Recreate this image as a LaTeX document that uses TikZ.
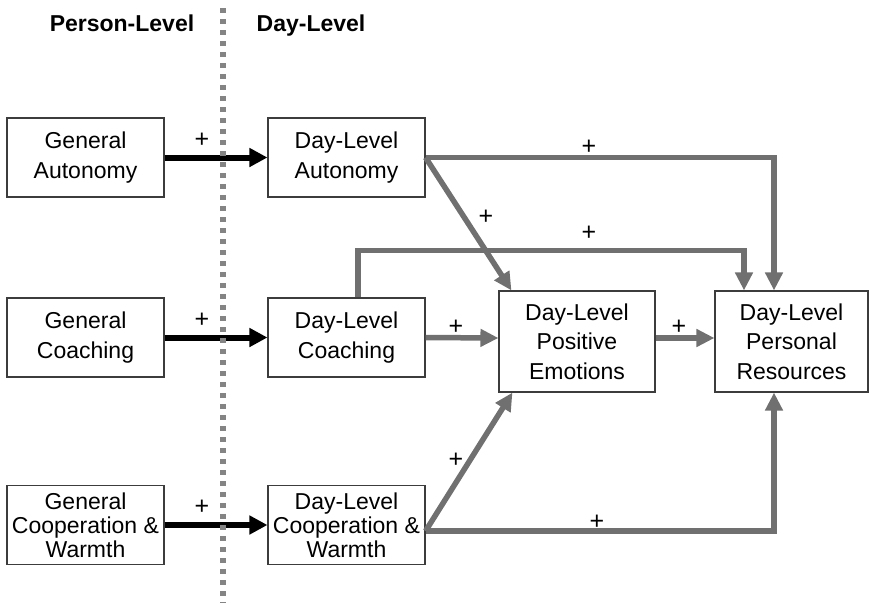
\documentclass[tikz,border=0pt]{standalone}
\usepackage{fontspec}
\setmainfont{Liberation Sans}
\usepackage{xcolor}
\usepackage{tikz}
\usetikzlibrary{arrows.meta,calc,positioning}
\definecolor{arrowgray}{RGB}{112,112,112}
\definecolor{dotgray}{RGB}{132,132,132}
\definecolor{boxgray}{RGB}{60,60,60}
\tikzset{
  varbox/.style={draw=boxgray,line width=1.1pt,minimum width=157pt,minimum height=79pt,
    inner sep=0pt,align=center,font=\fontsize{23}{29.5}\selectfont},
  tightbox/.style={varbox,font=\fontsize{23}{24}\selectfont},
  widebox/.style={varbox,minimum width=156pt,minimum height=101pt},
  blackpath/.style={-{Triangle[length=18pt,width=18pt]},line width=6pt,black},
  graypath/.style={-{Triangle[length=18pt,width=17pt]},line width=5.5pt,arrowgray},
  signlabel/.style={font=\fontsize{25}{25}\selectfont,inner sep=0pt},
  levelhead/.style={font=\bfseries\fontsize{23}{23}\selectfont,anchor=base}
}

\begin{document}
\begin{tikzpicture}[x=1pt,y=-1pt,>=Latex]
  \useasboundingbox (0,0) rectangle (869,603);
  % person level
  \node[varbox] (genAut) at (85.5,157.5) {General\\Autonomy};
  \node[varbox] (genCoa) at (85.5,337.5) {General\\Coaching};
  \node[tightbox] (genCoop) at (85.5,525) {General\\Cooperation \&\\Warmth};
  % day level
  \node[varbox] (dayAut) at (346.5,157.5) {Day-Level\\Autonomy};
  \node[varbox] (dayCoa) at (346.5,337.5) {Day-Level\\Coaching};
  \node[tightbox] (dayCoop) at (346.5,525) {Day-Level\\Cooperation \&\\Warmth};
  \node[widebox] (posEmo) at (577,341.5) {Day-Level\\Positive\\Emotions};
  \node[widebox,minimum width=153pt] (persRes) at (791.5,341.5) {Day-Level\\Personal\\Resources};

  \node[levelhead] at (122,31) {Person-Level};
  \node[levelhead] at (311,31) {Day-Level};

  \draw[blackpath] (genAut) -- (dayAut);
  \draw[blackpath] (genCoa) -- (dayCoa);
  \draw[blackpath] (genCoop) -- (dayCoop);
  \node[signlabel] at (202,140) {+};
  \node[signlabel] at (202,320) {+};
  \node[signlabel] at (202,507) {+};

  \draw[graypath] (dayAut.east) -| ([xshift=-17.5pt]persRes.north);
  \draw[graypath] (dayAut.east) -- ([xshift=13pt]posEmo.north west);
  \draw[graypath] ([xshift=11.5pt]dayCoa.north) -- ++(0,-47) -| ([xshift=-47.5pt]persRes.north);
  \draw[graypath] (dayCoa.east) -- ([yshift=3.5pt]posEmo.west);
  \draw[graypath] ([yshift=3.5pt]posEmo.east) -- ([yshift=3.5pt]persRes.west);
  \draw[graypath] ([yshift=-6pt]dayCoop.east) -- ([xshift=14pt]posEmo.south west);
  \draw[graypath] ([yshift=-6pt]dayCoop.east) -| ([xshift=-17.5pt]persRes.south);
  \node[signlabel] at (589,147) {+};
  \node[signlabel] at (486,217) {+};
  \node[signlabel] at (589,233) {+};
  \node[signlabel] at (456,327) {+};
  \node[signlabel] at (679,327) {+};
  \node[signlabel] at (456,460) {+};
  \node[signlabel] at (597,522) {+};

  % level divider
  \draw[dotgray,line width=5.5pt,dash pattern=on 5pt off 6pt] (223,8) -- (223,603);
\end{tikzpicture}
\end{document}
